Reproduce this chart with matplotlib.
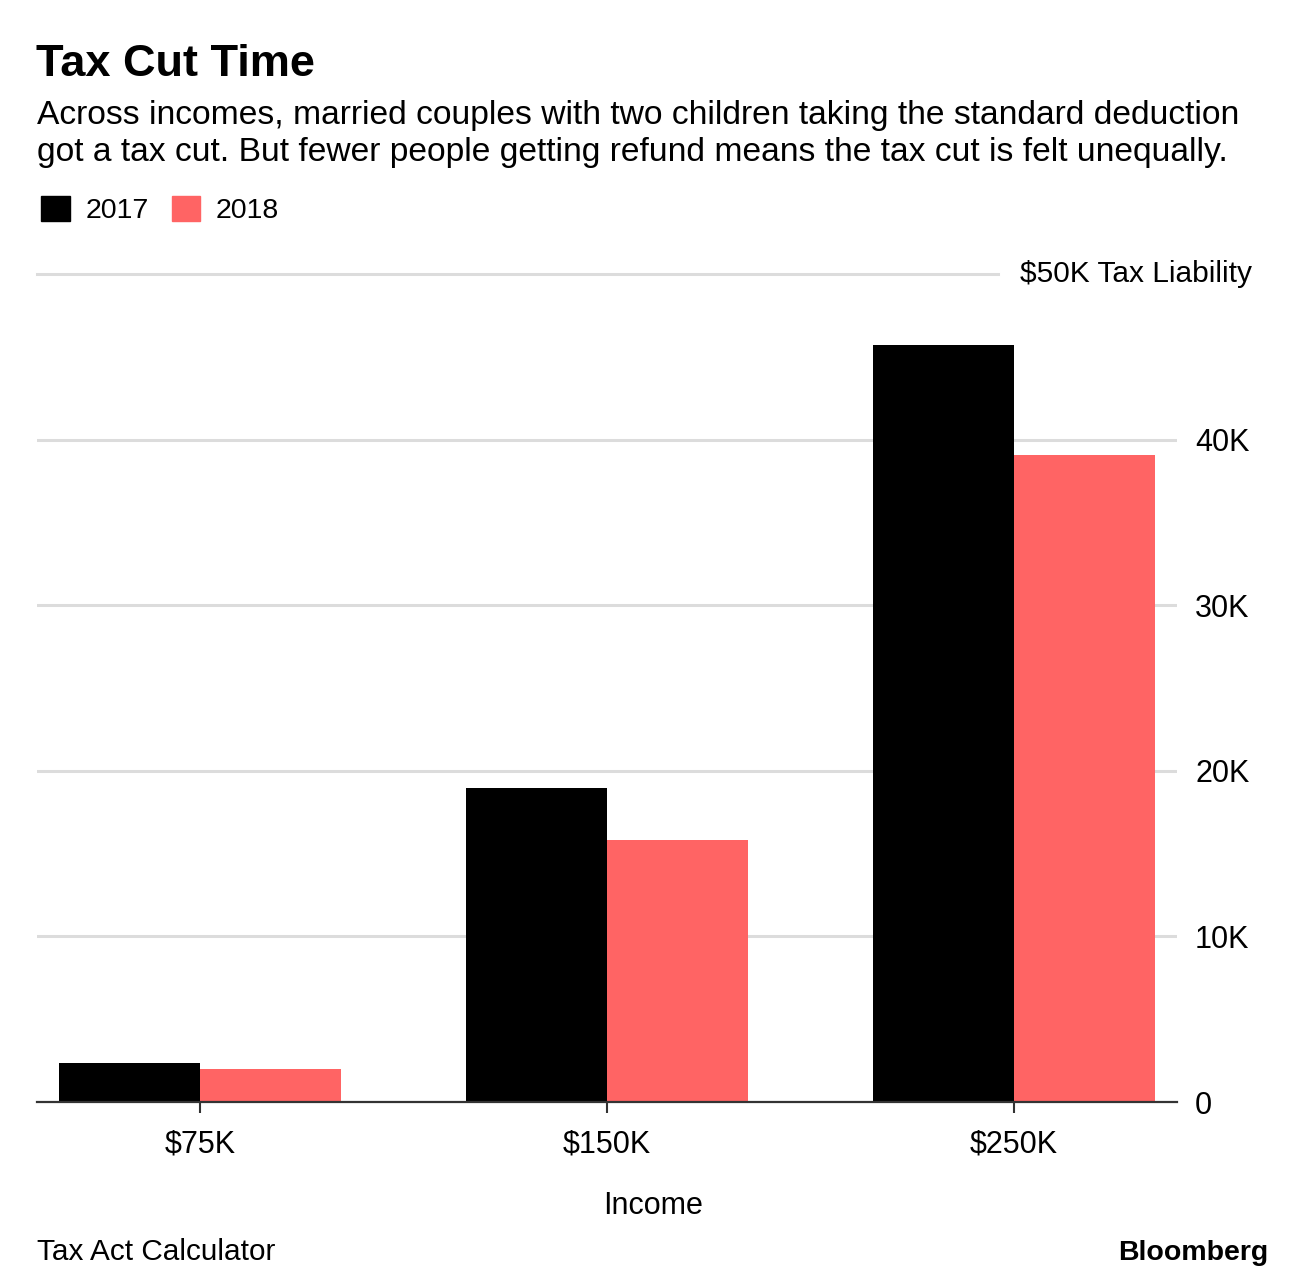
import matplotlib
matplotlib.use("Agg")
import matplotlib.pyplot as plt
from matplotlib.patches import Patch
import numpy as np

categories = ["$75K", "$150K", "$250K"]
tax_2017 = [2350, 18950, 45700]
tax_2018 = [1990, 15800, 39050]
series_names = ["2017", "2018"]
y_ticks = [0, 10000, 20000, 30000, 40000]
y_tick_labels = ["0", "10K", "20K", "30K", "40K"]
top_value = 50000
top_label = "$50K Tax Liability"

plt.rcParams['font.family'] = ['Liberation Sans', 'DejaVu Sans']

W, H = 1296, 1284
fig = plt.figure(figsize=(W / 100, H / 100), dpi=100)

def fx(px):
    return px / W

def fy(py):
    return 1 - py / H

ax = fig.add_axes([fx(37), fy(1102), fx(1177) - fx(37), fy(274) - fy(1102)])

x = np.arange(len(categories))
bw = 0.346
ax.bar(x - bw / 2, tax_2017, width=bw, color="#000000", zorder=3, linewidth=0)
ax.bar(x + bw / 2, tax_2018, width=bw, color="#ff6464", zorder=3, linewidth=0)

ax.set_xlim(-0.4, 2.4)
ax.set_ylim(0, top_value)

grid_color = "#dcdcdc"
for v in y_ticks[1:]:
    ax.axhline(v, color=grid_color, lw=2.2, zorder=1)
ax.axhline(top_value, xmin=0, xmax=(998 - 37) / 1140, color=grid_color, lw=2.2, zorder=1, clip_on=False)

for s in ["top", "left", "right"]:
    ax.spines[s].set_visible(False)
ax.spines["bottom"].set_color("#333333")
ax.spines["bottom"].set_linewidth(1.6)
ax.spines["bottom"].set_zorder(4)

tick_fs = 22
ax.set_xticks(x)
ax.set_xticklabels(categories, fontsize=tick_fs)
ax.tick_params(axis="x", length=8, width=1.5, color="#333333", pad=12)

ax.yaxis.tick_right()
ax.set_yticks(y_ticks)
ax.set_yticklabels(y_tick_labels, fontsize=tick_fs)
ax.tick_params(axis="y", length=0, pad=13)
for lab in ax.get_yticklabels():
    lab.set_horizontalalignment("left")

ax.text((1020 - 37) / 1140, top_value, top_label, transform=ax.get_yaxis_transform(),
        fontsize=21.5, va="center", ha="left", clip_on=False)

fig.text(fx(653), fy(1206), "Income", fontsize=tick_fs, va="center", ha="center")

fig.text(fx(36), fy(64), "Tax Cut Time", fontsize=32.5, fontweight="bold", va="center", ha="left")
fig.text(fx(37), fy(134), "Across incomes, married couples with two children taking the standard deduction\n"
         "got a tax cut. But fewer people getting refund means the tax cut is felt unequally.",
         fontsize=24.2, va="center", ha="left", linespacing=1.27)

handles = [Patch(color="#000000"), Patch(color="#ff6464")]
fig.legend(handles, series_names, loc="center left", bbox_to_anchor=(fx(30), fy(210)),
           ncol=2, frameon=False, fontsize=20.5, handlelength=1.0, handleheight=1.0,
           handletextpad=0.55, columnspacing=0.8, borderaxespad=0)

fig.text(fx(37), fy(1252), "Tax Act Calculator", fontsize=21.4, va="center", ha="left")
fig.text(fx(1268), fy(1253), "Bloomberg", fontsize=20.5, fontweight="bold", va="center", ha="right")

fig.savefig("out.png", dpi=100)
